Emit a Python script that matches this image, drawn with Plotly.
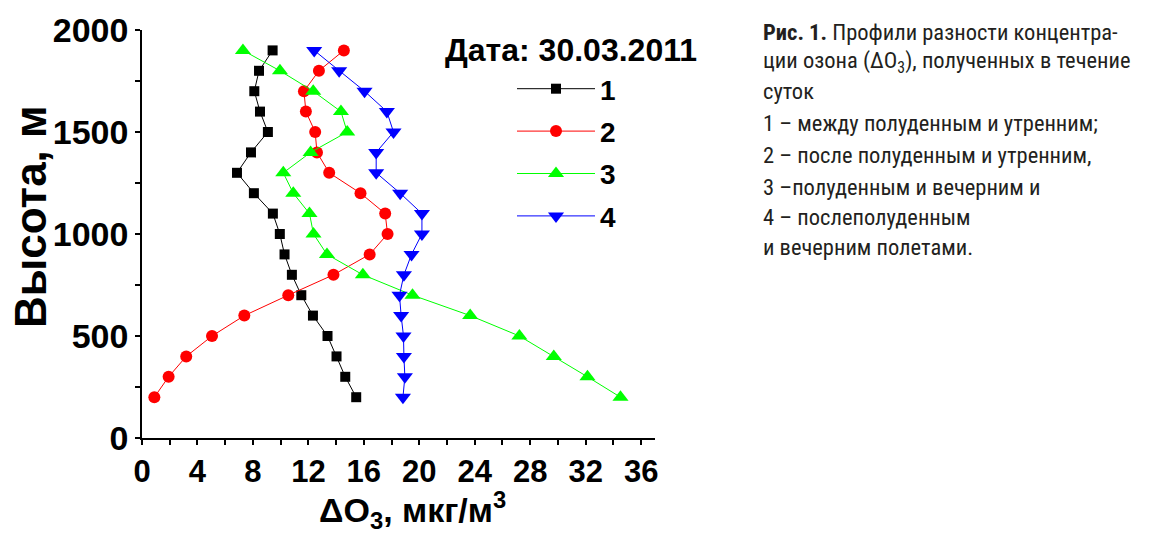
import plotly.graph_objects as go

heights = [1900, 1800, 1700, 1600, 1500, 1400, 1300, 1200, 1100, 1000,
           900, 800, 700, 600, 500, 400, 300, 200]

s1 = [9.42, 8.44, 8.10, 8.51, 9.08, 7.86, 6.85, 8.07, 9.44, 9.94,
      10.28, 10.81, 11.49, 12.33, 13.38, 14.03, 14.66, 15.45]
s2 = [14.56, 12.76, 11.68, 11.82, 12.49, 12.62, 13.50, 15.76, 17.54, 17.71,
      16.42, 13.81, 10.55, 7.38, 5.05, 3.19, 1.92, 0.89]
s3 = [7.28, 9.95, 12.35, 14.35, 14.80, 12.16, 10.19, 10.91, 12.08, 12.37,
      13.34, 15.93, 19.51, 23.67, 27.22, 29.70, 32.13, 34.51]
s4 = [12.42, 14.22, 16.05, 17.66, 18.14, 16.89, 16.89, 18.62, 20.19, 20.19,
      19.44, 18.89, 18.57, 18.69, 18.86, 18.89, 18.96, 18.82]

names = ["1", "2", "3", "4"]
colors = ["#000000", "#ff0000", "#00ff00", "#0000ff"]
symbols = ["square", "circle", "triangle-up", "triangle-down"]
sizes = [10, 12, 14, 14]

x_ticks = [0, 4, 8, 12, 16, 20, 24, 28, 32, 36]
y_ticks = [0, 500, 1000, 1500, 2000]

caption_lines = [
    "<b>Рис. 1.</b> Профили разности концентра-",
    "ции озона (ΔO<sub>3</sub>), полученных в течение",
    "суток",
    "1 – между полуденным и утренним;",
    "2 – после полуденным и утренним,",
    "3 –полуденным и вечерним и",
    "4 – послеполуденным",
    "и вечерним полетами.",
]
caption_y = [32, 62, 91, 123, 155, 187, 217, 247]

W, H = 1151, 535
L, T = 142, 30
PW, PH = 513, 408
B = H - T - PH
R = W - L - PW

fig = go.Figure()
for name, xs, c, sym, sz in zip(names, [s1, s2, s3, s4], colors, symbols, sizes):
    fig.add_trace(go.Scatter(
        x=xs, y=heights, mode="lines+markers", name=name, legendgroup=name,
        line=dict(color=c, width=1),
        marker=dict(symbol=sym, size=sz, color=c, line=dict(width=0)),
    ))

bold_font = "Liberation Sans, Arial, sans-serif"

fig.update_layout(
    width=W, height=H,
    margin=dict(l=L, r=R, t=T, b=B, autoexpand=False),
    paper_bgcolor="white", plot_bgcolor="white",
    font=dict(family=bold_font, color="black"),
    showlegend=True,
    legend=dict(
        x=(512 - L) / PW, y=(438 - 64) / PH, xanchor="left", yanchor="top",
        xref="paper", yref="paper",
        font=dict(family=bold_font, size=28, weight="bold", color="black"),
        itemwidth=78, tracegroupgap=3, bgcolor="rgba(0,0,0,0)",
    ),
    xaxis=dict(
        range=[0, 37], tickmode="array", tickvals=x_ticks,
        ticktext=[str(v) for v in x_ticks],
        showgrid=False, zeroline=False, showline=True, linecolor="black", linewidth=1.5,
        ticks="outside", ticklen=5, tickwidth=1.5, tickcolor="black",
        minor=dict(dtick=2, tick0=0, ticks="outside", ticklen=5, tickwidth=1.5, tickcolor="black"),
        tickfont=dict(family=bold_font, size=31, weight="bold", color="black"),
        fixedrange=True,
    ),
    yaxis=dict(
        range=[0, 2000], tickmode="array", tickvals=y_ticks,
        ticktext=[str(v) for v in y_ticks],
        showgrid=False, zeroline=False, showline=True, linecolor="black", linewidth=1.5,
        ticks="outside", ticklen=5, tickwidth=1.5, tickcolor="black",
        minor=dict(dtick=250, tick0=0, ticks="outside", ticklen=5, tickwidth=1.5, tickcolor="black"),
        tickfont=dict(family=bold_font, size=34, weight="bold", color="black"),
        fixedrange=True,
    ),
)

def px_x(p):
    return (p - L) / PW

def px_y(p):
    return (H - B - p) / PH

annotations = [
    dict(text="<b>Дата: 30.03.2011</b>", x=px_x(443), y=px_y(50), xref="paper", yref="paper",
         xanchor="left", yanchor="middle", showarrow=False,
         font=dict(family=bold_font, size=32, color="black")),
    dict(text="<b>ΔO<sub>3</sub>, мкг/м<sup>3</sup></b>", x=px_x(412), y=px_y(510), xref="paper", yref="paper",
         xanchor="center", yanchor="middle", showarrow=False,
         font=dict(family=bold_font, size=34, color="black")),
    dict(text="<b>Высота, м</b>", x=px_x(30), y=px_y(217), xref="paper", yref="paper",
         xanchor="center", yanchor="middle", showarrow=False, textangle=-90,
         font=dict(family=bold_font, size=44, color="black")),
]
for txt, yy in zip(caption_lines, caption_y):
    annotations.append(dict(
        text=txt, x=px_x(761), y=px_y(yy), xref="paper", yref="paper",
        xanchor="left", yanchor="middle", showarrow=False,
        font=dict(family="Roboto Condensed, Liberation Sans Narrow, DejaVu Sans Condensed, Roboto, sans-serif",
                  size=22.5, color="#231f20"),
    ))
fig.update_layout(annotations=annotations)

fig.write_html("out.html")
